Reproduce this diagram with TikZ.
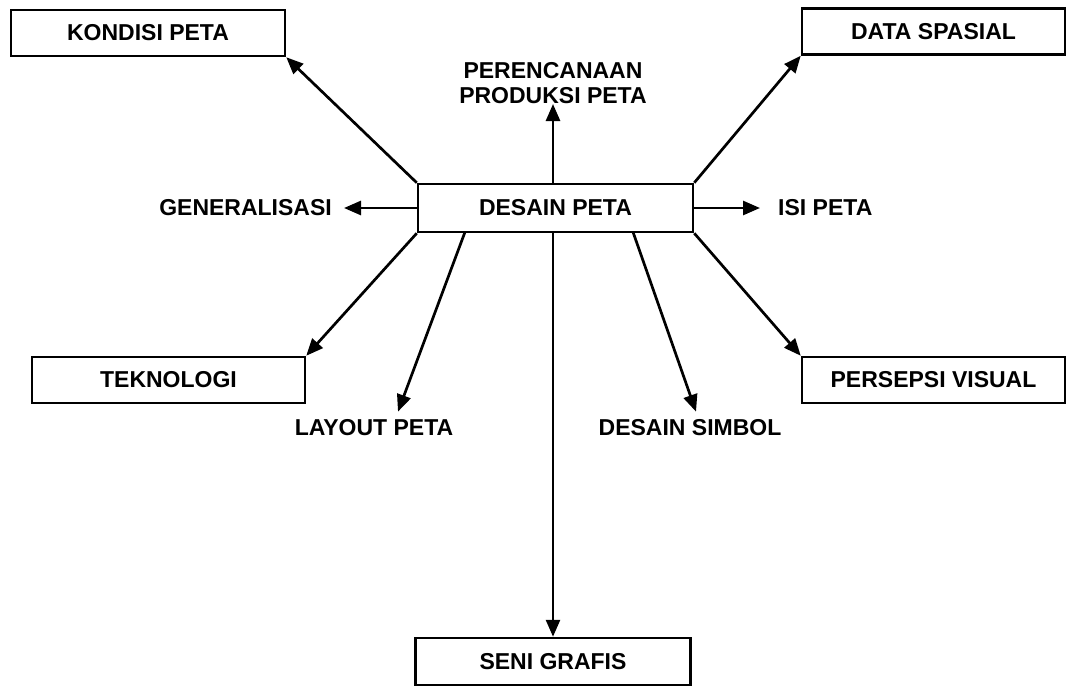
\documentclass[tikz,border=0pt]{standalone}
\usepackage{fontspec}
\setmainfont{Liberation Sans}
\usetikzlibrary{arrows.meta}
\begin{document}
\begin{tikzpicture}[x=1pt,y=-1pt,
  txt/.style={font=\bfseries\fontsize{23}{25}\selectfont},
  box/.style={txt, draw, line width=2.5pt, inner sep=0pt, minimum height=46pt},
  lbl/.style={txt, inner sep=0pt, align=center},
  arr/.style={line width=2.7pt, -{Triangle[length=17pt,width=14pt]}}]
\useasboundingbox (0,0) rectangle (1075,688);
% boxes
\node[box, minimum width=274pt] (kondisi) at (148,33) {KONDISI PETA};
\node[box, minimum width=263pt] (data) at (933.5,31.5) {DATA SPASIAL};
\node[box, minimum width=275pt, minimum height=48pt] (desain) at (555.5,208) {DESAIN PETA};
\node[box, minimum width=273pt] (tekno) at (168.5,380) {TEKNOLOGI};
\node[box, minimum width=263pt] (persepsi) at (933.5,380) {PERSEPSI VISUAL};
\node[box, minimum width=275pt, minimum height=47pt] (seni) at (553,661.5) {SENI GRAFIS};
% labels
\node[lbl, anchor=south] (renc) at (553,104) {PERENCANAAN\\PRODUKSI PETA};
\node[lbl, anchor=east] (gen) at (332,208) {GENERALISASI};
\node[lbl, anchor=west] (isi) at (778,208) {ISI PETA};
\node[lbl] (layout) at (374,428) {LAYOUT PETA};
\node[lbl] (simbol) at (690,428) {DESAIN SIMBOL};
% connection points on DESAIN PETA
\coordinate (d1) at (465,232);
\coordinate (d2) at (633,232);
% connectors
\draw[arr] (desain.north west) -- (kondisi.south east);
\draw[arr] (desain.north east) -- (data.south west);
\draw[arr] (desain.south west) -- (tekno.north east);
\draw[arr] (desain.south east) -- (persepsi.north west);
\draw[arr] (renc.south |- desain.north) -- (renc.south);
\draw[arr, shorten >=12pt] (desain.west) -- (gen.east);
\draw[arr, shorten >=18pt] (desain.east) -- (isi.west);
\draw[arr] (d1) -- ([xshift=24pt,yshift=8pt]layout.north);
\draw[arr] (d2) -- ([xshift=6pt,yshift=8pt]simbol.north);
\draw[arr] (seni.north |- desain.south) -- (seni.north);
\end{tikzpicture}
\end{document}
